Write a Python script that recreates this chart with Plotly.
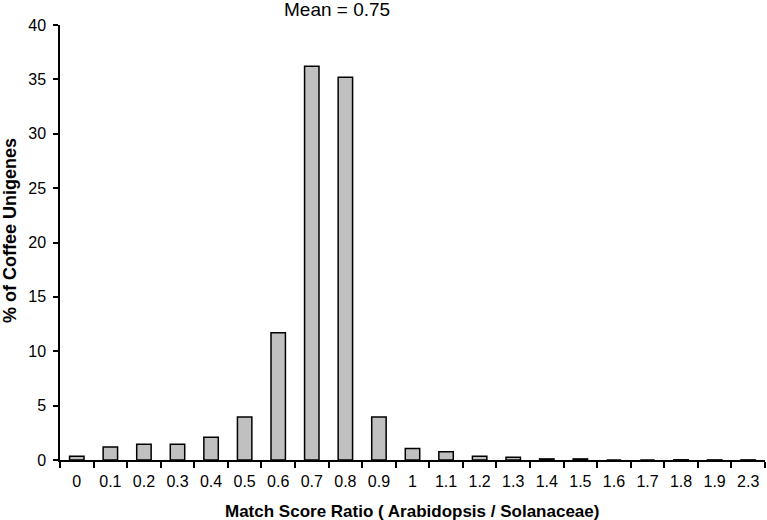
import plotly.graph_objects as go

categories = ["0", "0.1", "0.2", "0.3", "0.4", "0.5", "0.6", "0.7", "0.8", "0.9", "1",
              "1.1", "1.2", "1.3", "1.4", "1.5", "1.6", "1.7", "1.8", "1.9", "2.3"]
percent_unigenes = [0.35, 1.2, 1.45, 1.45, 2.1, 3.95, 11.7, 36.2, 35.2, 3.95, 1.05,
                    0.75, 0.35, 0.25, 0.1, 0.1, 0.0, 0.0, 0.02, 0.01, 0.01]
y_ticks = [0, 5, 10, 15, 20, 25, 30, 35, 40]

W, H = 767, 520
L, R, T, B = 60, 2, 25, 60

fig = go.Figure()
fig.add_trace(go.Bar(
    x=categories, y=percent_unigenes,
    marker=dict(color="#c0c0c0", line=dict(color="black", width=1.5)),
    width=0.43,
))

font_family = "Liberation Sans, Arial, sans-serif"
pw = W - L - R
ph = H - T - B
fig.update_layout(
    width=W, height=H,
    margin=dict(l=L, r=R, t=T, b=B, autoexpand=False),
    plot_bgcolor="white", paper_bgcolor="white",
    showlegend=False,
    font=dict(family=font_family, color="black", size=16),
    xaxis=dict(
        type="category", tickson="boundaries", automargin=False,
        showline=True, linecolor="black", linewidth=1.5,
        ticks="outside", ticklen=6, tickcolor="black", tickwidth=1.5,
        showgrid=False, zeroline=False,
        tickfont=dict(size=16), ticklabelstandoff=6,
    ),
    yaxis=dict(
        range=[0, 40], tickvals=y_ticks, automargin=False,
        showline=True, linecolor="black", linewidth=1.5,
        ticks="outside", ticklen=5, tickcolor="black", tickwidth=1.5,
        showgrid=False, zeroline=False,
        tickfont=dict(size=16), ticklabelstandoff=4,
    ),
    annotations=[
        dict(text="Mean = 0.75", xref="paper", yref="paper",
             x=(337 - L) / pw, y=1.0, yshift=16, xanchor="center", yanchor="middle",
             showarrow=False, font=dict(size=19, family=font_family)),
        dict(text="<b>Match Score Ratio ( Arabidopsis / Solanaceae)</b>",
             xref="paper", yref="paper", x=(412 - L) / pw, y=0,
             yshift=-(511 - (H - B)), xanchor="center", yanchor="middle",
             showarrow=False, font=dict(size=17, family=font_family)),
        dict(text="<b>% of Coffee Unigenes</b>", textangle=-90,
             xref="paper", yref="paper", x=0, xshift=-(L - 10),
             y=(H - B - 231) / ph, xanchor="center", yanchor="middle",
             showarrow=False, font=dict(size=18, family=font_family)),
    ],
)

fig.write_html("out.html",
               config={"displayModeBar": False},
               post_script="document.body.style.margin='0';document.body.style.overflow='hidden';")
